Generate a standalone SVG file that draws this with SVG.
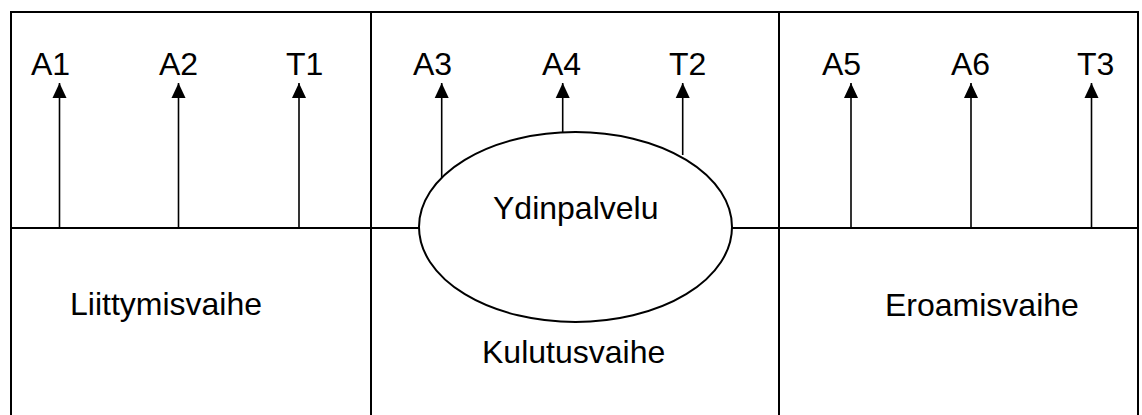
<svg xmlns="http://www.w3.org/2000/svg" width="1142" height="415" viewBox="0 0 1142 415">
<style>
.frame{stroke:#000;stroke-width:2;fill:none}
.conn{stroke:#000;stroke-width:1.6;fill:none}
.lbl{font-family:"Liberation Sans",Arial,sans-serif;font-size:32px;fill:#000}
</style>
<defs>
<marker id="ah" markerUnits="userSpaceOnUse" markerWidth="14" markerHeight="15" refX="7" refY="0" viewBox="0 0 14 15" orient="0" overflow="visible">
<path d="M0,15 L7,0 L14,15 Z" fill="#000"/>
</marker>
</defs>
<rect width="1142" height="415" fill="#fff"/>
<g id="frame">
<path class="frame" d="M11,416 V12 H1138 V416"/>
<path class="frame" d="M371,12 V416 M779,12 V416"/>
<path class="frame" d="M11,228 H1138"/>
</g>
<g id="connectors">
<line class="conn" x1="59.5" y1="228" x2="59.5" y2="83" marker-end="url(#ah)"/>
<line class="conn" x1="178.5" y1="228" x2="178.5" y2="83" marker-end="url(#ah)"/>
<line class="conn" x1="299" y1="228" x2="299" y2="83" marker-end="url(#ah)"/>
<line class="conn" x1="441.7" y1="178" x2="441.7" y2="83" marker-end="url(#ah)"/>
<line class="conn" x1="562.7" y1="132" x2="562.7" y2="83" marker-end="url(#ah)"/>
<line class="conn" x1="682.7" y1="155" x2="682.7" y2="83" marker-end="url(#ah)"/>
<line class="conn" x1="851" y1="228" x2="851" y2="83" marker-end="url(#ah)"/>
<line class="conn" x1="971" y1="228" x2="971" y2="83" marker-end="url(#ah)"/>
<line class="conn" x1="1091.5" y1="228" x2="1091.5" y2="83" marker-end="url(#ah)"/>
</g>
<g id="ydinpalvelu">
<ellipse cx="575.5" cy="227" rx="156.5" ry="95" fill="#fff" stroke="#000" stroke-width="2"/>
<text class="lbl" x="493" y="219">Ydinpalvelu</text>
</g>
<g id="labels-top">
<text class="lbl" x="31" y="75">A1</text>
<text class="lbl" x="159" y="75">A2</text>
<text class="lbl" x="286" y="75">T1</text>
<text class="lbl" x="413" y="75">A3</text>
<text class="lbl" x="542" y="75">A4</text>
<text class="lbl" x="669" y="75">T2</text>
<text class="lbl" x="822" y="75">A5</text>
<text class="lbl" x="951" y="75">A6</text>
<text class="lbl" x="1077" y="75">T3</text>
</g>
<g id="liittymisvaihe"><text class="lbl" x="70" y="315">Liittymisvaihe</text></g>
<g id="kulutusvaihe"><text class="lbl" x="482" y="363">Kulutusvaihe</text></g>
<g id="eroamisvaihe"><text class="lbl" x="885" y="316">Eroamisvaihe</text></g>
</svg>
